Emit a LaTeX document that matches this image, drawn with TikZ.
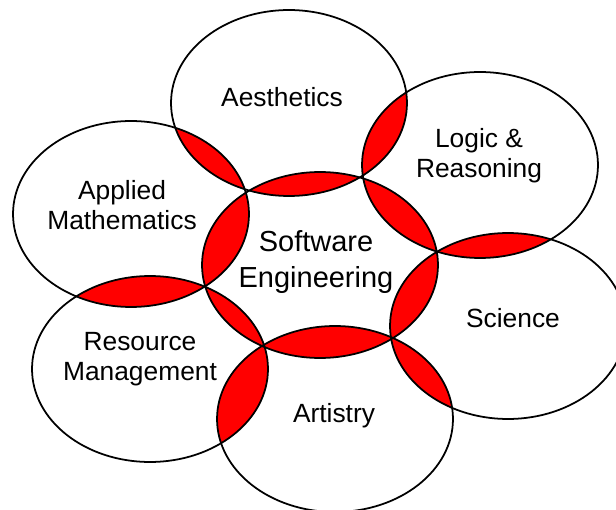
\documentclass[tikz,border=0pt]{standalone}
\usepackage{fontspec}
\setmainfont{Liberation Sans}
\usetikzlibrary{positioning}

\begin{document}
\begin{tikzpicture}[x=0.02cm, y=-0.02cm]
	\tikzstyle{txt} = [align=center, inner sep=0pt, font=\fontsize{15}{17}\selectfont]
	\tikzstyle{bigtxt} = [txt, font=\fontsize{16.5}{20.5}\selectfont]
	\tikzstyle{rim} = [draw, black, line width=1pt]
	\tikzstyle{oval} = [x radius=2.36cm, y radius=1.86cm]

	\useasboundingbox (0,0) rectangle (616,510);

	\coordinate (se) at (320,265);
	\coordinate (ae) at (289,103);
	\coordinate (lr) at (480,165);
	\coordinate (sc) at (508,326);
	\coordinate (ar) at (335,419);
	\coordinate (rm) at (150,369);
	\coordinate (am) at (131,214);

	% overlaps
	\foreach \a/\b in {se/ae, se/lr, se/sc, se/ar, se/rm, se/am,
		ae/lr, lr/sc, sc/ar, ar/rm, rm/am, am/ae}
	{
		\begin{scope}
		\clip (\a) ellipse [oval];
		\fill[red] (\b) ellipse [oval];
		\end{scope}
	}

	% outlines
	\foreach \c in {se, ae, lr, sc, ar, rm, am}
		\draw[rim] (\c) ellipse [oval];

	\node[bigtxt] (seText) at (316,262) {Software\\Engineering};
	\node[txt] (aeText) at (282,97) {Aesthetics};
	\node[txt] (lrText) at (479,156) {Logic \&\\Reasoning};
	\node[txt] (scText) at (513,318) {Science};
	\node[txt] (arText) at (334,416) {Artistry};
	\node[txt] (rmText) at (140,359) {Resource\\Management};
	\node[txt] (amText) at (122,205) {Applied\\Mathematics};
\end{tikzpicture}
\end{document}
